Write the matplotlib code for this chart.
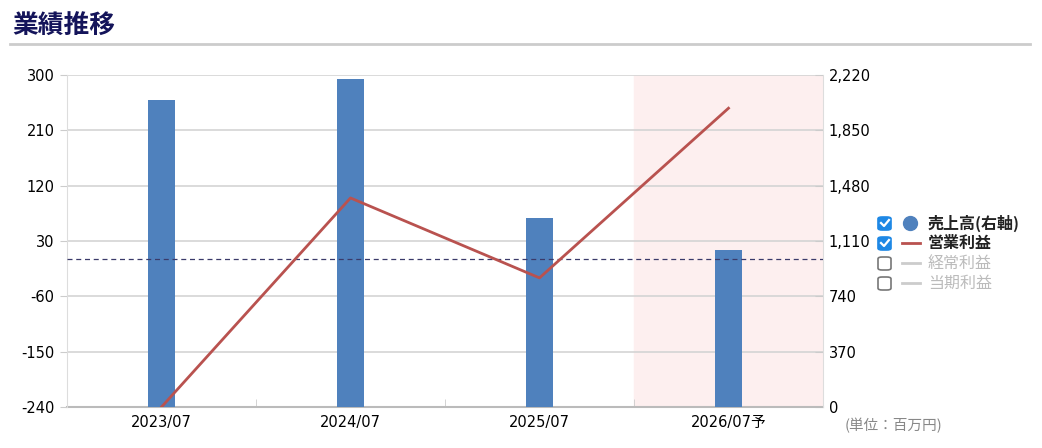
import matplotlib.pyplot as plt
from matplotlib.patches import FancyBboxPatch
from matplotlib.lines import Line2D
from matplotlib.ticker import FuncFormatter

plt.rcParams['font.family'] = ['DejaVu Sans', 'Noto Sans CJK JP']
plt.rcParams['axes.unicode_minus'] = False

periods = ['2023/07', '2024/07', '2025/07', '2026/07予']
sales = [2053, 2193, 1264, 1050]          # 売上高 (右軸)
op_profit = [-240, 100, -30, 246]         # 営業利益 (左軸)
left_ticks = [-240, -150, -60, 30, 120, 210, 300]
right_ticks = [0, 370, 740, 1110, 1480, 1850, 2220]

bar_color = '#4f81bd'
line_color = '#b9524f'
grid_color = '#d4d4d4'

fig = plt.figure(figsize=(10.42, 4.48), dpi=100)
axb = fig.add_axes([67 / 1042, 41 / 448, 756 / 1042, 332 / 448])
axl = axb.twinx()
axl.set_zorder(axb.get_zorder() + 1)
axl.patch.set_visible(False)

x = range(len(periods))

# forecast background
axb.axvspan(2.5, 3.5, color='#fdefef', zorder=0)

# bars on right axis
axb.bar(x, sales, width=0.14, color=bar_color, zorder=3)
axb.set_ylim(0, 2220)
axb.set_yticks(right_ticks)
axb.yaxis.tick_right()
axb.yaxis.set_major_formatter(FuncFormatter(lambda v, p: f'{int(v):,}'))
axb.set_axisbelow(True)
axb.grid(axis='y', color=grid_color, linewidth=1.2, zorder=1)
axb.set_xlim(-0.5, 3.5)
axb.set_xticks(list(x))
axb.set_xticklabels(periods)
axb.set_xticks([0.5, 1.5, 2.5], minor=True)
axb.tick_params(axis='x', which='major', length=0, labelsize=10.5, pad=6)
axb.tick_params(axis='x', which='minor', direction='in', length=6, color='#cccccc')
axb.tick_params(axis='y', length=6, direction='in', color='#cccccc', labelsize=10.5, pad=4)

# line on left axis
axl.plot(x, op_profit, color=line_color, linewidth=2, zorder=5)
axl.axhline(0, color='#3a3a6a', linestyle=(0, (4, 3)), linewidth=0.9, zorder=4)
axl.set_ylim(-240, 300)
axl.set_yticks(left_ticks)
axl.yaxis.tick_left()
axl.tick_params(axis='y', length=5, color='#cccccc', labelsize=10.5, pad=4)

for a in (axb, axl):
    for s in a.spines.values():
        s.set_visible(False)
axl.spines['left'].set_visible(True)
axl.spines['left'].set_color('#dddddd')
axl.spines['right'].set_visible(True)
axl.spines['right'].set_color('#dddddd')
axb.spines['bottom'].set_visible(True)
axb.spines['bottom'].set_color('#bbbbbb')
axb.spines['bottom'].set_linewidth(1.5)

# title
fig.text(12 / 1042, 1 - 26 / 448, '業績推移', fontsize=18.5, fontweight='bold',
         color='#14145a', va='center', ha='left', family='Noto Sans CJK JP')
fig.add_artist(Line2D([10 / 1042, 1030 / 1042], [1 - 44 / 448, 1 - 44 / 448],
                      color='#cccccc', linewidth=2))

# unit
fig.text(845 / 1042, 1 - 426 / 448, '(単位：百万円)', fontsize=10.5, color='#888888',
         va='center', ha='left', family='Noto Sans CJK JP')

# legend
legend_items = [('売上高(右軸)', True, 'bar'), ('営業利益', True, 'line'),
                ('経常利益', False, 'line'), ('当期利益', False, 'line')]
W, H = 1042, 448
for i, (label, on, kind) in enumerate(legend_items):
    yc = 223 + i * 20
    box = FancyBboxPatch((878 / W, 1 - (yc + 7) / H), 13 / W, 13 / H,
                         boxstyle='round,pad=0,rounding_size=0.004',
                         transform=fig.transFigure,
                         facecolor='#1e88e5' if on else 'white',
                         edgecolor='#1e88e5' if on else '#777777', linewidth=1.2)
    fig.add_artist(box)
    if on:
        fig.add_artist(Line2D([881 / W, 884 / W, 889 / W],
                              [1 - yc / H, 1 - (yc + 3) / H, 1 - (yc - 3) / H],
                              color='white', linewidth=1.6))
    if kind == 'bar':
        fig.add_artist(Line2D([910 / W], [1 - yc / H], marker='o', markersize=10,
                              color=bar_color, linestyle='none'))
    else:
        fig.add_artist(Line2D([902 / W, 920 / W], [1 - yc / H, 1 - yc / H],
                              color=line_color if on else '#cccccc', linewidth=2))
    fig.text(928 / W, 1 - yc / H, label, fontsize=11.5,
             fontweight='bold' if on else 'normal',
             color='#222222' if on else '#bbbbbb', va='center', ha='left',
             family='Noto Sans CJK JP')

fig.savefig('out.png', dpi=100)
